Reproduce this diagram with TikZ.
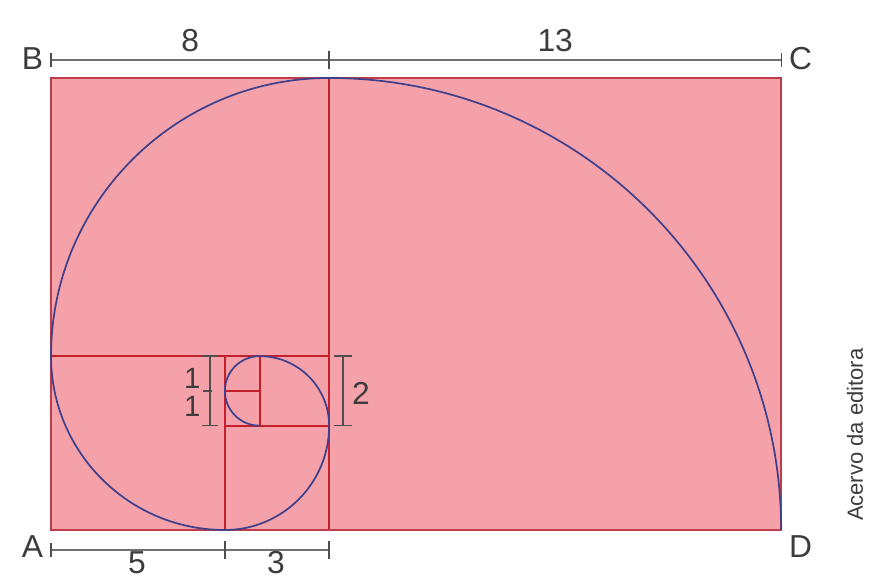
\documentclass[tikz,border=0pt]{standalone}
\usepackage{fontspec}
\setmainfont{Liberation Sans}
\begin{document}
\begin{tikzpicture}[x=1cm,y=1cm,
  redline/.style={draw=redln,line width=1.5pt},
  spiral/.style={draw=blueln,line width=1.4pt},
  dimline/.style={draw=dimgray,line width=1.9pt},
  dimtick/.style={draw=dimgray!70!black,line width=1.1pt},
  biglbl/.style={inner sep=0pt,text=lblgray,font=\fontsize{26}{30}\selectfont},
  smalllbl/.style={inner sep=0pt,text=lblgray,font=\fontsize{24}{28}\selectfont},
  credit/.style={inner sep=0pt,text=lblgray,font=\fontsize{18}{21}\selectfont}]
\definecolor{pinkfill}{RGB}{245,161,169}
\definecolor{redln}{RGB}{196,32,44}
\definecolor{borderln}{RGB}{190,60,75}
\definecolor{blueln}{RGB}{62,64,140}
\definecolor{dimgray}{RGB}{112,112,112}
\definecolor{lblgray}{RGB}{60,60,60}
\useasboundingbox (-1.467,-1.352) rectangle (23.526,15.243);
% corners
\coordinate (A) at (0,0);
\coordinate (D) at (21,0);
\coordinate (C) at (21,13);
\coordinate (B) at (0,13);
% rectangle
\fill[pinkfill] (A) rectangle (C);
% internal square divisions
\coordinate (t8) at (8,13);
\coordinate (b8) at (8,0);
\coordinate (l5) at (0,5);
\coordinate (r5) at (8,5);
\coordinate (b5) at (5,0);
\coordinate (m5) at (5,5);
\coordinate (l3) at (5,3);
\coordinate (r3) at (8,3);
\coordinate (t6) at (6,5);
\coordinate (b6) at (6,3);
\coordinate (l4) at (5,4);
\coordinate (r4) at (6,4);
\draw[redline] (t8) -- (b8);
\draw[redline] (l5) -- (r5);
\draw[redline] (m5) -- (b5);
\draw[redline] (l3) -- (r3);
\draw[redline] (t6) -- (b6);
\draw[redline] (l4) -- (r4);
\draw[draw=borderln,line width=1.4pt] (A) rectangle (C);
% spiral
\draw[spiral] (D) arc[start angle=0,end angle=90,radius=13]
  arc[start angle=90,end angle=180,radius=8]
  arc[start angle=180,end angle=270,radius=5]
  arc[start angle=270,end angle=360,radius=3]
  arc[start angle=0,end angle=90,radius=2]
  arc[start angle=90,end angle=270,radius=1];
% top dimension
\coordinate (tdL) at (0,13.52);
\coordinate (tdM) at (8,13.52);
\coordinate (tdR) at (21,13.52);
\draw[dimline] (tdL) -- (tdR);
\draw[dimtick] ([yshift=-0.2cm]tdL) -- ([yshift=0.2cm]tdL);
\draw[dimtick] ([yshift=-0.27cm]tdM) -- ([yshift=0.27cm]tdM);
\draw[dimtick] ([yshift=-0.2cm]tdR) -- ([yshift=0.2cm]tdR);
% bottom dimension
\coordinate (bdL) at (0,-0.575);
\coordinate (bdM) at (5,-0.575);
\coordinate (bdR) at (8,-0.575);
\draw[dimline] (bdL) -- (bdR);
\draw[dimtick] ([yshift=-0.2cm]bdL) -- ([yshift=0.2cm]bdL);
\draw[dimtick] ([yshift=-0.27cm]bdM) -- ([yshift=0.27cm]bdM);
\draw[dimtick] ([yshift=-0.27cm]bdR) -- ([yshift=0.27cm]bdR);
% left small dimension (1,1)
\coordinate (ldT) at (4.57,5);
\coordinate (ldM) at (4.57,4);
\coordinate (ldB) at (4.57,3);
\draw[dimtick,line width=1.4pt] (ldT) -- (ldB);
\draw[dimtick,line width=1.3pt] ([xshift=-0.22cm]ldT) -- ([xshift=0.22cm]ldT);
\draw[dimtick] ([xshift=-0.2cm]ldM) -- ([xshift=0.05cm]ldM);
\draw[dimtick,line width=1.3pt] ([xshift=-0.22cm]ldB) -- ([xshift=0.22cm]ldB);
% right small dimension (2)
\coordinate (rdT) at (8.4,5);
\coordinate (rdB) at (8.4,3);
\draw[dimtick,line width=1.4pt] (rdT) -- (rdB);
\draw[dimtick,line width=1.3pt] ([xshift=-0.27cm]rdT) -- ([xshift=0.27cm]rdT);
\draw[dimtick,line width=1.3pt] ([xshift=-0.27cm]rdB) -- ([xshift=0.27cm]rdB);
% labels
\node[biglbl,anchor=base east] (lB) at (-0.22,13.23) {B};
\node[biglbl,anchor=base west] (lC) at (21.22,13.23) {C};
\node[biglbl,anchor=base east] (lA) at (-0.22,-0.805) {A};
\node[biglbl,anchor=base west] (lD) at (21.22,-0.805) {D};
\node[biglbl,anchor=base] (l8) at (4,13.75) {8};
\node[biglbl,anchor=base] (l13) at (14.5,13.75) {13};
\node[biglbl,anchor=base] (l5) at (2.47,-1.24) {5};
\node[biglbl,anchor=base] (l3) at (6.47,-1.24) {3};
\node[smalllbl,anchor=base] (l1a) at (4.06,4.08) {1};
\node[smalllbl,anchor=base] (l1b) at (4.06,3.25) {1};
\node[biglbl,anchor=base west] (l2) at (8.65,3.62) {2};
\node[credit,rotate=90] (cr) at (23.12,2.74) {Acervo da editora};
\end{tikzpicture}
\end{document}
